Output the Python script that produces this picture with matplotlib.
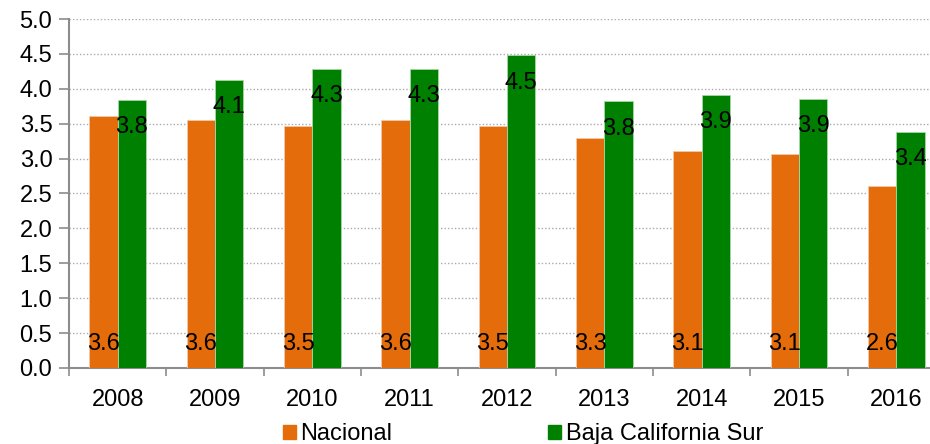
import numpy as np
import matplotlib
matplotlib.use('Agg')
import matplotlib.pyplot as plt
from matplotlib.patches import Patch

plt.rcParams['font.family'] = ['Liberation Sans', 'DejaVu Sans']

years = ['2008', '2009', '2010', '2011', '2012', '2013', '2014', '2015', '2016']
nacional = [3.61, 3.56, 3.46, 3.56, 3.46, 3.30, 3.11, 3.06, 2.61]
bcs = [3.84, 4.13, 4.29, 4.29, 4.48, 3.82, 3.91, 3.85, 3.38]
series_names = ['Nacional', 'Baja California Sur']

c_nac = '#E46C0A'
c_bcs = '#008000'
fs = 17

fig = plt.figure(figsize=(9.3, 4.44), dpi=100)
ax = fig.add_axes([0.0742, 0.1712, 0.942, 0.786])

x = np.arange(len(years))
w = 0.29
ax.bar(x - w / 2, nacional, w, color=c_nac, edgecolor='#f3c9a8', linewidth=0.6, zorder=3)
ax.bar(x + w / 2, bcs, w, color=c_bcs, edgecolor='#a8d8a8', linewidth=0.6, zorder=3)

# value labels: national at the bottom, state inside the top of the bar
for i in range(len(years)):
    ax.text(x[i] - w / 2, 0.35, f'{nacional[i]:.1f}', ha='center', va='center',
            fontsize=fs, zorder=4)
    ax.text(x[i] + w / 2, bcs[i] - 0.39, f'{bcs[i]:.1f}', ha='center', va='center',
            fontsize=fs, zorder=4)

ax.set_xlim(-0.5, len(years) - 0.5)
ax.set_ylim(0, 5)
ax.set_yticks(np.arange(0, 5.01, 0.5))
ax.set_yticklabels([f'{v:.1f}' for v in np.arange(0, 5.01, 0.5)])
ax.yaxis.grid(True, linestyle=(0, (1, 1.5)), color='#aaaaaa', linewidth=1, zorder=0)

# ticks at category boundaries, labels at centers
ax.set_xticks(np.arange(-0.5, len(years), 1))
ax.set_xticklabels([])
ax.set_xticks(x, minor=True)
ax.set_xticklabels(years, minor=True)
ax.tick_params(axis='x', which='major', length=6, width=1.2, color='#8c8c8c', direction='out')
ax.tick_params(axis='x', which='minor', length=0, pad=15, labelsize=fs)
ax.tick_params(axis='y', length=7, width=1.2, color='#8c8c8c', pad=5, labelsize=fs)

for s in ['top', 'right']:
    ax.spines[s].set_visible(False)
for s in ['left', 'bottom']:
    ax.spines[s].set_color('#8c8c8c')
    ax.spines[s].set_linewidth(1.5)

handles = [Patch(color=c_nac), Patch(color=c_bcs)]
fig.legend(handles, series_names, loc='lower left', bbox_to_anchor=(0.281, -0.051),
           ncol=2, frameon=False, fontsize=fs, handlelength=0.55, handleheight=0.55,
           handletextpad=0.2, columnspacing=6.6)

fig.savefig('out.png', dpi=100)
